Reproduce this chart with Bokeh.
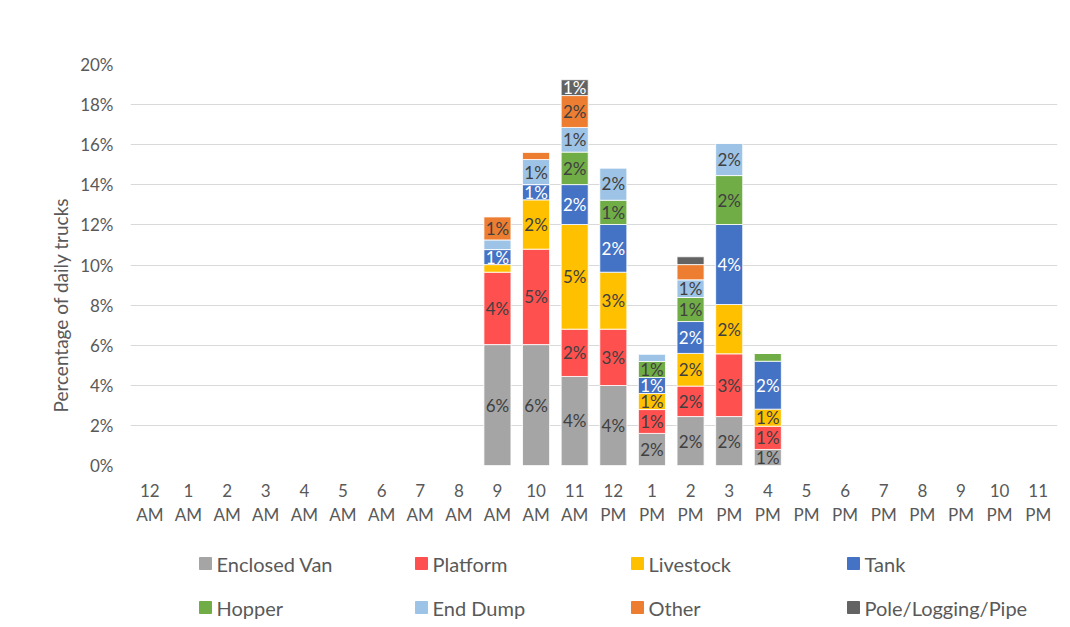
from bokeh.plotting import figure
from bokeh.models import (ColumnDataSource, NumeralTickFormatter, FixedTicker, Range1d,
                          LinearAxis, Title)
from bokeh.layouts import column
from bokeh.embed import file_html
from bokeh.resources import INLINE
from bokeh.core.properties import value

hours = ["12 AM", "1 AM", "2 AM", "3 AM", "4 AM", "5 AM", "6 AM", "7 AM", "8 AM", "9 AM", "10 AM", "11 AM",
         "12 PM", "1 PM", "2 PM", "3 PM", "4 PM", "5 PM", "6 PM", "7 PM", "8 PM", "9 PM", "10 PM", "11 PM"]

series = ["Enclosed Van", "Platform", "Livestock", "Tank", "Hopper", "End Dump", "Other", "Pole/Logging/Pipe"]
colors = ["#A5A5A5", "#FF5050", "#FFC000", "#4472C4", "#70AD47", "#9DC3E6", "#ED7D31", "#636363"]
label_colors = ["#404040", "#404040", "#404040", "#FFFFFF", "#404040", "#404040", "#404040", "#FFFFFF"]

# percentage of daily trucks (values read for 9 AM .. 4 PM, zeros elsewhere)
enclosed_van = [0]*9 + [6.03, 6.03, 4.44, 3.99, 1.60, 2.44, 2.44, 0.80] + [0]*7
platform     = [0]*9 + [3.61, 4.76, 2.36, 2.81, 1.19, 1.52, 3.13, 1.16] + [0]*7
livestock    = [0]*9 + [0.38, 2.46, 5.22, 2.84, 0.80, 1.63, 2.46, 0.85] + [0]*7
tank         = [0]*9 + [0.75, 0.76, 1.99, 2.38, 0.80, 1.59, 3.99, 2.39] + [0]*7
hopper       = [0]*9 + [0.00, 0.00, 1.62, 1.21, 0.80, 1.20, 2.44, 0.39] + [0]*7
end_dump     = [0]*9 + [0.48, 1.25, 1.23, 1.62, 0.38, 0.88, 1.62, 0.00] + [0]*7
other        = [0]*9 + [1.16, 0.37, 1.59, 0.00, 0.00, 0.76, 0.00, 0.00] + [0]*7
pole         = [0]*9 + [0.00, 0.00, 0.79, 0.00, 0.00, 0.39, 0.00, 0.00] + [0]*7

values = [enclosed_van, platform, livestock, tank, hopper, end_dump, other, pole]
hidden_labels = [("Other", "2 PM")]

y_ticks = [0, 2, 4, 6, 8, 10, 12, 14, 16, 18, 20]

FONT = "Lato"
TXT = "#595959"

pos = list(range(len(hours)))
data = {"pos": pos}
for name, vals in zip(series, values):
    data[name] = [v / 100 for v in vals]
src = ColumnDataSource(data)

W = 1070
H1 = 540
H2 = 87

p = figure(x_range=Range1d(-0.5, len(hours) - 0.5), y_range=Range1d(0, 0.20), width=W, height=H1,
           output_backend="svg", toolbar_location=None, min_border_left=130, min_border_right=13,
           min_border_top=64, min_border_bottom=75)
p.outline_line_color = None
p.background_fill_color = "white"
p.border_fill_color = "white"

p.vbar_stack(series, x="pos", width=0.7, color=colors, source=src, line_color="white", line_width=0.8)

# data labels
lx, ly, lt, lc = [], [], [], []
for i, h in enumerate(hours):
    base = 0.0
    for name, vals, tc in zip(series, values, label_colors):
        v = vals[i]
        if v > 0 and round(v) >= 1 and (name, h) not in hidden_labels:
            lx.append(i)
            ly.append((base + v / 2) / 100)
            lt.append(f"{round(v)}%")
            lc.append(tc)
        base += v
lsrc = ColumnDataSource(dict(x=lx, y=ly, text=lt, color=lc))
p.text(x="x", y="y", text="text", text_color="color", source=lsrc, text_align="center",
       text_baseline="middle", text_font=value(FONT), text_font_size="17px")

p.ygrid.grid_line_color = "#D9D9D9"
p.ygrid.grid_line_width = 1
p.xgrid.grid_line_color = None

p.yaxis.ticker = FixedTicker(ticks=[t / 100 for t in y_ticks])
p.yaxis.formatter = NumeralTickFormatter(format="0%")
p.yaxis.axis_line_color = None
p.yaxis.major_tick_line_color = None
p.yaxis.minor_tick_line_color = None
p.yaxis.major_tick_out = 0
p.yaxis.major_tick_in = 0
p.yaxis.major_label_standoff = 17
p.yaxis.major_label_text_font = FONT
p.yaxis.major_label_text_font_size = "17px"
p.yaxis.major_label_text_color = TXT

def style_xaxis(ax, standoff):
    ax.ticker = FixedTicker(ticks=pos)
    ax.axis_line_color = None
    ax.major_tick_line_color = None
    ax.minor_tick_line_color = None
    ax.major_tick_out = 0
    ax.major_tick_in = 0
    ax.major_label_standoff = standoff
    ax.major_label_text_font = FONT
    ax.major_label_text_font_size = "17px"
    ax.major_label_text_color = TXT

# first line of the hour labels (number), second line (AM/PM) on a second axis
p.xaxis.major_label_overrides = {i: h.split(" ")[0] for i, h in enumerate(hours)}
style_xaxis(p.xaxis[0], 18)
ax2 = LinearAxis(major_label_overrides={i: h.split(" ")[1] for i, h in enumerate(hours)})
style_xaxis(ax2, 4)
p.add_layout(ax2, "below")

p.add_layout(Title(text="Percentage of daily trucks", align="left", offset=53, standoff=12,
                   text_font=FONT, text_font_size="19px", text_font_style="normal",
                   text_color=TXT), "left")

# legend panel (frame aligned with the chart frame: x in page pixels)
lg = figure(width=W, height=H2, x_range=Range1d(130, 1057), y_range=Range1d(H2, 0),
            output_backend="svg", toolbar_location=None, min_border=0,
            x_axis_type=None, y_axis_type=None)
lg.outline_line_color = None
lg.xgrid.grid_line_color = None
lg.ygrid.grid_line_color = None
sx, sy, scol, tx, ty, tt = [], [], [], [], [], []
for k, name in enumerate(series):
    row, col = divmod(k, 4)
    cx = 205 + col * 216
    cy = 23 + row * 44
    sx.append(cx); sy.append(cy); scol.append(colors[k])
    tx.append(cx + 11); ty.append(cy); tt.append(name)
lg.rect(x=sx, y=sy, width=12, height=12, color=scol)
lg.text(x=tx, y=ty, text=tt, text_align="left", text_baseline="middle",
        text_font=value(FONT), text_font_size="20px", text_color=TXT)

layout = column(p, lg, spacing=0)
open("out.html", "w").write(file_html(layout, INLINE))
